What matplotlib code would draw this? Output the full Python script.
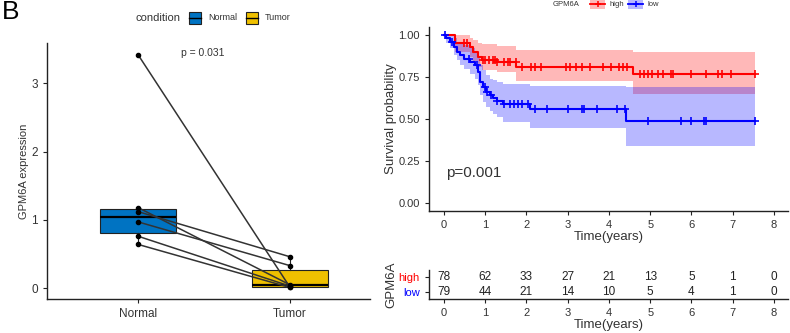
import numpy as np
import matplotlib
matplotlib.use("Agg")
import matplotlib.pyplot as plt
from matplotlib.patches import Rectangle
from matplotlib.lines import Line2D

plt.rcParams['font.family'] = ['Liberation Sans', 'DejaVu Sans']

# ---------------- data: paired expression ----------------
conditions = ["Normal", "Tumor"]
normal_expr = [3.42, 1.18, 1.12, 0.97, 0.76, 0.64]
tumor_expr = [0.02, 0.05, 0.46, 0.33, 0.03, 0.01]
p_box = "p = 0.031"

# ---------------- data: survival ----------------
high_t = [0, 0.27, 0.63, 0.70, 0.83, 0.92, 1.30, 1.76, 4.58]
high_s = [1.00, 0.95, 0.93, 0.90, 0.87, 0.85, 0.84, 0.81, 0.77]
high_up = [1.00, 1.00, 0.985, 0.97, 0.955, 0.945, 0.935, 0.91, 0.90]
high_lo = [1.00, 0.90, 0.87, 0.84, 0.81, 0.79, 0.78, 0.725, 0.65]
high_cens = [0.50, 0.55, 0.95, 1.00, 1.10, 1.20, 1.25, 1.30, 1.45, 1.55, 1.60,
             1.75, 1.90, 2.10, 2.20, 2.35, 2.95, 3.05, 3.20, 3.35, 3.55, 3.85,
             4.05, 4.25, 4.35, 4.45, 4.75, 4.85, 4.95, 5.05, 5.20, 5.30, 5.50,
             5.55, 6.00, 6.35, 6.65, 6.75, 6.95, 7.55]

low_t = [0, 0.05, 0.15, 0.25, 0.32, 0.38, 0.50, 0.63, 0.75, 0.83, 0.87, 0.95,
         1.03, 1.11, 1.19, 1.28, 1.44, 2.09, 4.42]
low_s = [1.00, 0.98, 0.96, 0.93, 0.90, 0.88, 0.86, 0.84, 0.82, 0.78, 0.72, 0.69,
         0.66, 0.64, 0.625, 0.61, 0.59, 0.56, 0.49]
low_up = [1.00, 1.00, 0.995, 0.98, 0.96, 0.95, 0.94, 0.92, 0.90, 0.87, 0.82, 0.79,
          0.76, 0.74, 0.73, 0.72, 0.71, 0.695, 0.69]
low_lo = [1.00, 0.95, 0.92, 0.88, 0.85, 0.82, 0.80, 0.77, 0.74, 0.70, 0.64, 0.60,
          0.57, 0.55, 0.53, 0.51, 0.48, 0.445, 0.34]
low_cens = [0.02, 0.20, 0.60, 0.80, 1.00, 1.05, 1.15, 1.30, 1.45, 1.60, 1.70,
            1.80, 1.90, 2.05, 2.20, 2.50, 3.00, 3.35, 3.40, 3.70, 4.20, 4.40,
            4.95, 5.75, 6.00, 6.30, 6.35, 7.55]
t_end = 7.55
p_surv = "p=0.001"

risk_times = [0, 1, 2, 3, 4, 5, 6, 7, 8]
risk_high = [78, 62, 33, 27, 21, 13, 5, 1, 0]
risk_low = [79, 44, 21, 14, 10, 5, 4, 1, 0]
groups = ["high", "low"]

# ---------------- figure ----------------
W, H = 790, 333
fig = plt.figure(figsize=(W / 100, H / 100), dpi=100)

def fx(px):
    return px / W

def fy(py):
    return 1 - py / H

txt_col = "#333333"
c_norm, c_tum = "#0073C2", "#EFC000"
c_high, c_low = "#FF0000", "#0000FF"

def style_axes(ax):
    for s in ["top", "right"]:
        ax.spines[s].set_visible(False)
    for s in ["left", "bottom"]:
        ax.spines[s].set_linewidth(1.0)
        ax.spines[s].set_color("#222222")
    ax.tick_params(direction="out", length=3, width=0.8, colors="#222222",
                   labelcolor=txt_col)

# ---- left panel ----
axL = fig.add_axes([fx(47), fy(299), fx(370 - 47), fy(43) - fy(299)])
style_axes(axL)
bp = axL.boxplot([normal_expr, tumor_expr], positions=[1, 2], widths=0.5,
                 patch_artist=True, showfliers=False, whis=1.5,
                 medianprops=dict(color="black", linewidth=1.6),
                 boxprops=dict(edgecolor="#222222", linewidth=0.8),
                 whiskerprops=dict(color="#222222", linewidth=0.8),
                 capprops=dict(linewidth=0), zorder=1)
for patch, c in zip(bp["boxes"], [c_norm, c_tum]):
    patch.set_facecolor(c)
for a, b in zip(normal_expr, tumor_expr):
    axL.plot([1, 2], [a, b], color="#333333", lw=1.1, zorder=3)
axL.scatter([1] * len(normal_expr), normal_expr, s=9, color="black", zorder=4)
axL.scatter([2] * len(tumor_expr), tumor_expr, s=9, color="black", zorder=4)
axL.set_xlim(0.4, 2.53)
axL.set_ylim(-0.16, 3.59)
axL.set_xticks([1, 2])
axL.set_xticklabels(conditions, fontsize=8.5)
axL.set_yticks([0, 1, 2, 3])
axL.set_yticklabels(["0", "1", "2", "3"], fontsize=8.5)
axL.set_ylabel("GPM6A expression", fontsize=8, color=txt_col, labelpad=2)
axL.text(1.43, 3.45, p_box, fontsize=7.5, color=txt_col, ha="center", va="center")

fig.text(fx(2), fy(12), "B", fontsize=19, va="center", ha="left")

# left legend (manual)
fig.text(fx(136), fy(18), "condition", fontsize=8, color=txt_col, va="center")
for x0, c, lab in [(189, c_norm, conditions[0]), (246, c_tum, conditions[1])]:
    fig.patches.append(Rectangle((fx(x0), fy(24)), fx(12), fy(12) - fy(24),
                                 transform=fig.transFigure, facecolor=c,
                                 edgecolor="#222222", linewidth=0.8))
    fig.lines.append(Line2D([fx(x0), fx(x0 + 12)], [fy(18), fy(18)],
                            transform=fig.transFigure, color="black", lw=1))
    fig.text(fx(x0 + 19), fy(18), lab, fontsize=6.5, color=txt_col, va="center")

# ---- KM panel ----
axK = fig.add_axes([fx(429), fy(211), fx(788 - 429), fy(27) - fy(211)])
style_axes(axK)

def km(ax, t, s, up, lo, cens, col):
    tt = list(t) + [t_end]
    ss = list(s) + [s[-1]]
    uu = list(up) + [up[-1]]
    ll = list(lo) + [lo[-1]]
    ax.fill_between(tt, ll, uu, step="post", color=col, alpha=0.28, lw=0)
    ax.step(tt, ss, where="post", color=col, lw=1.5)
    idx = np.searchsorted(np.array(t), np.array(cens), side="right") - 1
    ax.plot(cens, np.array(s)[idx], ls="none", marker="+", ms=5.5, mew=1.2, color=col)

km(axK, high_t, high_s, high_up, high_lo, high_cens, c_high)
km(axK, low_t, low_s, low_up, low_lo, low_cens, c_low)
axK.set_xlim(-0.36, 8.34)
axK.set_ylim(-0.048, 1.048)
axK.set_xticks(risk_times)
axK.set_xticklabels([str(v) for v in risk_times], fontsize=8)
axK.set_yticks([0, 0.25, 0.5, 0.75, 1.0])
axK.set_yticklabels(["0.00", "0.25", "0.50", "0.75", "1.00"], fontsize=8)
axK.set_xlabel("Time(years)", fontsize=9.5, color=txt_col, labelpad=1)
axK.set_ylabel("Survival probability", fontsize=9.5, color=txt_col, labelpad=1)
axK.text(0.05, 0.18, p_surv, fontsize=11, color=txt_col, va="center", ha="left")

# KM legend (manual)
fig.text(fx(553), fy(4), "GPM6A", fontsize=5.5, color=txt_col, va="center")
for x0, c, lab in [(590, c_high, groups[0]), (628, c_low, groups[1])]:
    fig.patches.append(Rectangle((fx(x0), fy(9)), fx(15), fy(0) - fy(9),
                                 transform=fig.transFigure, facecolor=c,
                                 alpha=0.28, linewidth=0))
    fig.lines.append(Line2D([fx(x0), fx(x0 + 15)], [fy(4), fy(4)],
                            transform=fig.transFigure, color=c, lw=1.3))
    fig.lines.append(Line2D([fx(x0 + 7.5)], [fy(4)], transform=fig.transFigure,
                            color=c, marker="+", ms=5, mew=1.1))
    fig.text(fx(x0 + 19), fy(4), lab, fontsize=5.5, color=txt_col, va="center")

# ---- risk table ----
axR = fig.add_axes([fx(429), fy(299), fx(788 - 429), fy(270) - fy(299)])
style_axes(axR)
axR.set_xlim(-0.36, 8.34)
axR.set_ylim(0.5, 2.5)
for t, nh, nl in zip(risk_times, risk_high, risk_low):
    axR.text(t, 2, str(nh), ha="center", va="center", fontsize=8.5, color="#222222")
    axR.text(t, 1, str(nl), ha="center", va="center", fontsize=8.5, color="#222222")
axR.set_yticks([2, 1])
axR.set_yticklabels(groups, fontsize=8)
for lbl, c in zip(axR.get_yticklabels(), [c_high, c_low]):
    lbl.set_color(c)
axR.set_xticks(risk_times)
axR.set_xticklabels([str(v) for v in risk_times], fontsize=8)
axR.set_xlabel("Time(years)", fontsize=9.5, color=txt_col, labelpad=1)
axR.set_ylabel("GPM6A", fontsize=9.5, color=txt_col, labelpad=1)

fig.savefig("out.png", dpi=100)
